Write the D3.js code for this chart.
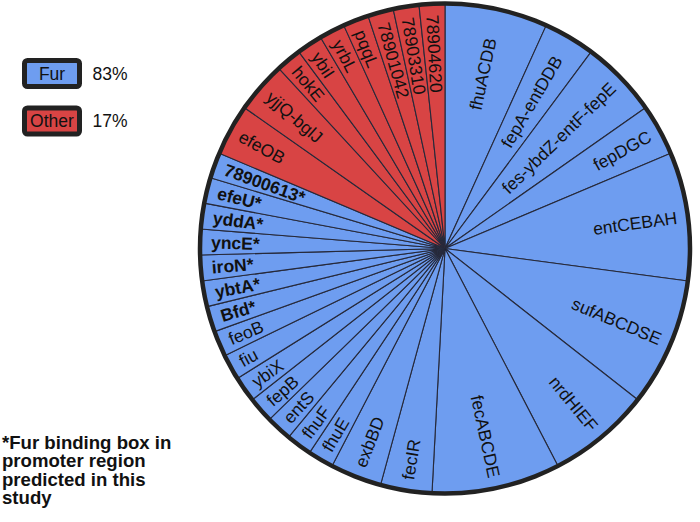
<!DOCTYPE html>
<html>
<head>
<meta charset="utf-8">
<script src="https://cdn.jsdelivr.net/npm/d3@7"></script>
<style>
  body { margin: 0; background: #fff; }
  svg { display: block; font-family: "Liberation Sans", Arial, sans-serif; }
</style>
</head>
<body>
<svg id="chart" width="700" height="522"></svg>
<script>
// genes, clockwise from 12 o'clock (* = Fur box predicted in this study)
const furGenes = ["fhuACDB", "fepA-entDDB", "fes-ybdZ-entF-fepE", "fepDGC", "entCEBAH",
  "sufABCDSE", "nrdHIEF", "fecABCDE", "fecIR", "exbBD", "fhuE", "fhuF", "entS", "fepB",
  "ybiX", "fiu", "feoB", "Bfd*", "ybtA*", "iroN*", "yncE*", "yddA*", "efeU*", "78900613*"];
const furValues = [4, 2, 3, 2, 5, 5, 4, 5, 2, 2, 1, 1, 1, 1, 1, 1, 1, 1, 1, 1, 1, 1, 1, 1];

const otherGenes = ["efeOB", "yjjQ-bglJ", "hokE", "ybiI", "yrbL", "pqqL",
  "78901042", "78903310", "78904620"];
const otherValues = [2, 2, 1, 1, 1, 1, 1, 1, 1];

const legendLabels = ["Fur", "Other"];
const legendPercents = ["83%", "17%"];
const footnote = ["*Fur binding box in", "promoter region", "predicted in this", "study"];

const colors = {Fur: "#6e9df0", Other: "#d84444"};

const svg = d3.select("#chart");
const cx = 445, cy = 248.5, r = 245, labelR = 234;

const slices = furGenes.map((g, i) => ({gene: g, value: furValues[i], group: "Fur"}))
  .concat(otherGenes.map((g, i) => ({gene: g, value: otherValues[i], group: "Other"})));

const pie = d3.pie().sort(null).value(d => d.value);
const arc = d3.arc().innerRadius(0).outerRadius(r);

const g = svg.append("g").attr("transform", `translate(${cx},${cy})`);

g.selectAll("path.slice")
  .data(pie(slices))
  .join("path")
  .attr("class", "slice")
  .attr("d", arc)
  .attr("fill", d => colors[d.data.group])
  .attr("stroke", "#26293a")
  .attr("stroke-width", 1.1)
  .attr("stroke-linejoin", "round");

g.append("circle")
  .attr("r", r)
  .attr("fill", "none")
  .attr("stroke", "#222")
  .attr("stroke-width", 4.5);

g.selectAll("text.label")
  .data(pie(slices))
  .join("text")
  .attr("class", "label")
  .each(function (d) {
    const mid = (d.startAngle + d.endAngle) / 2;
    const deg = mid * 180 / Math.PI;
    const right = deg < 180;
    // the two widest top slices sit a bit further in
    const rr = deg < 20 ? labelR - 19 : deg < 35 ? labelR - 12 : labelR;
    const x = rr * Math.sin(mid), y = -rr * Math.cos(mid);
    d3.select(this)
      .attr("transform", `translate(${x},${y}) rotate(${right ? deg - 90 : deg + 90})`)
      .attr("text-anchor", right ? "end" : "start")
      .attr("dy", "0.36em")
      .attr("font-size", 17.5)
      .attr("font-weight", d.data.gene.endsWith("*") ? "bold" : "normal")
      .attr("fill", "#111")
      .text(d.data.gene);
  });

// legend
const legend = svg.append("g").selectAll("g")
  .data(legendLabels)
  .join("g")
  .attr("transform", (d, i) => `translate(24.5,${60.5 + i * 47.5})`);

legend.append("rect")
  .attr("width", 55).attr("height", 26).attr("rx", 3)
  .attr("fill", d => colors[d])
  .attr("stroke", "#222").attr("stroke-width", 5);

legend.append("text")
  .attr("x", 27.5).attr("y", 13).attr("dy", "0.36em")
  .attr("text-anchor", "middle")
  .attr("font-size", 17.5).attr("fill", "#111")
  .text(d => d);

legend.append("text")
  .attr("x", 68).attr("y", 13).attr("dy", "0.36em")
  .attr("font-size", 17.5).attr("fill", "#111")
  .text((d, i) => legendPercents[i]);

// footnote
svg.append("text")
  .attr("font-size", 18.6).attr("font-weight", "bold").attr("fill", "#111")
  .selectAll("tspan")
  .data(footnote)
  .join("tspan")
  .attr("x", 2)
  .attr("y", (d, i) => 449 + i * 18.4)
  .text(d => d);
</script>
</body>
</html>
